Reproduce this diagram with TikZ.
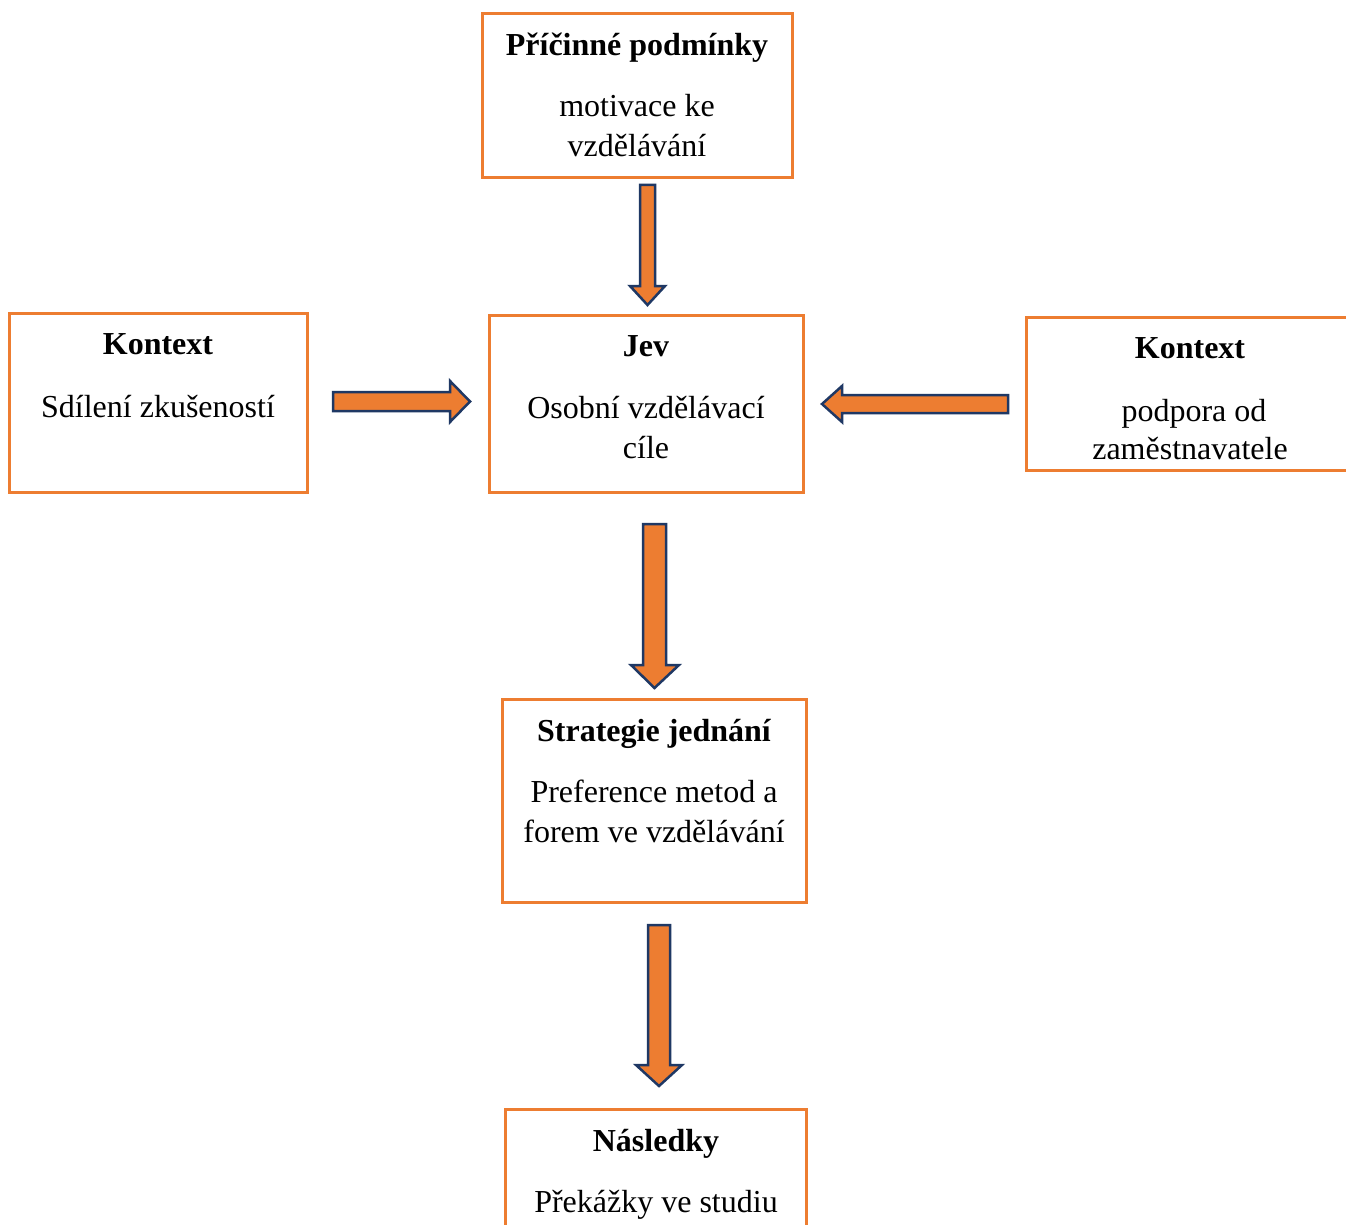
\documentclass[tikz,border=0pt]{standalone}
\usepackage{fontspec}
\setmainfont{Liberation Serif}
\definecolor{boxorange}{HTML}{ED7D31}
\definecolor{arrownavy}{HTML}{1F3864}
\begin{document}
\begin{tikzpicture}[x=1pt,y=-1pt,
  box/.style={draw=boxorange, line width=3pt, fill=none, rectangle, inner sep=0pt},
  txt/.style={anchor=base, inner sep=0pt, font=\fontsize{32}{40}\selectfont},
  btxt/.style={txt, font=\fontsize{32}{40}\selectfont\bfseries},
  blockarrow/.style={draw=arrownavy, fill=boxorange, line width=2.5pt, line join=miter}]
\useasboundingbox (0,0) rectangle (1346,1225);
\clip (0,0) rectangle (1346,1225);
\fill[white] (0,0) rectangle (1346,1225);
% boxes
\node[box, minimum width=310pt, minimum height=164pt] (prc) at (637,96) {};
\node[box, minimum width=298pt, minimum height=179pt] (kl) at (158,402.5) {};
\node[box, minimum width=314pt, minimum height=177pt] (jev) at (646,403.5) {};
\node[box, minimum width=340pt, minimum height=153pt] (kr) at (1196,393.5) {};
\node[box, minimum width=304pt, minimum height=203pt] (str) at (654,800.5) {};
\node[box, minimum width=301pt, minimum height=140pt] (nas) at (655.5,1179) {};
% texts
\node[btxt] (t1) at (637,56) {Příčinné podmínky};
\node[txt] (t2) at (637,117) {motivace ke};
\node[txt] (t3) at (637,157) {vzdělávání};
\node[btxt] (t4) at (158,354) {Kontext};
\node[txt] (t5) at (158,417) {Sdílení zkušeností};
\node[btxt] (t6) at (646,356) {Jev};
\node[txt] (t7) at (646,418) {Osobní vzdělávací};
\node[txt] (t8) at (646,458) {cíle};
\node[btxt] (t9) at (1190,358) {Kontext};
\node[txt] (t10) at (1194,421) {podpora od};
\node[txt] (t11) at (1190,459) {zaměstnavatele};
\node[btxt] (t12) at (654,741) {Strategie jednání};
\node[txt] (t13) at (654,802) {Preference metod a};
\node[txt] (t14) at (654,842) {forem ve vzdělávání};
\node[btxt] (t15) at (656,1151) {Následky};
\node[txt] (t16) at (656,1212) {Překážky ve studiu};
% block arrows
\draw[blockarrow] (640,185) -- (655,185) -- (655,286) -- (665,286) -- (647.5,305) -- (630,286) -- (640,286) -- cycle;
\draw[blockarrow] (333,392) -- (450,392) -- (450,381) -- (470,401.5) -- (450,422) -- (450,411) -- (333,411) -- cycle;
\draw[blockarrow] (1008,395) -- (842,395) -- (842,386) -- (822,404) -- (842,422) -- (842,413) -- (1008,413) -- cycle;
\draw[blockarrow] (643,524) -- (666,524) -- (666,665) -- (679,665) -- (654.5,688) -- (631,665) -- (643,665) -- cycle;
\draw[blockarrow] (648,925) -- (670,925) -- (670,1065) -- (682,1065) -- (659,1086) -- (636,1065) -- (648,1065) -- cycle;
\end{tikzpicture}
\end{document}
